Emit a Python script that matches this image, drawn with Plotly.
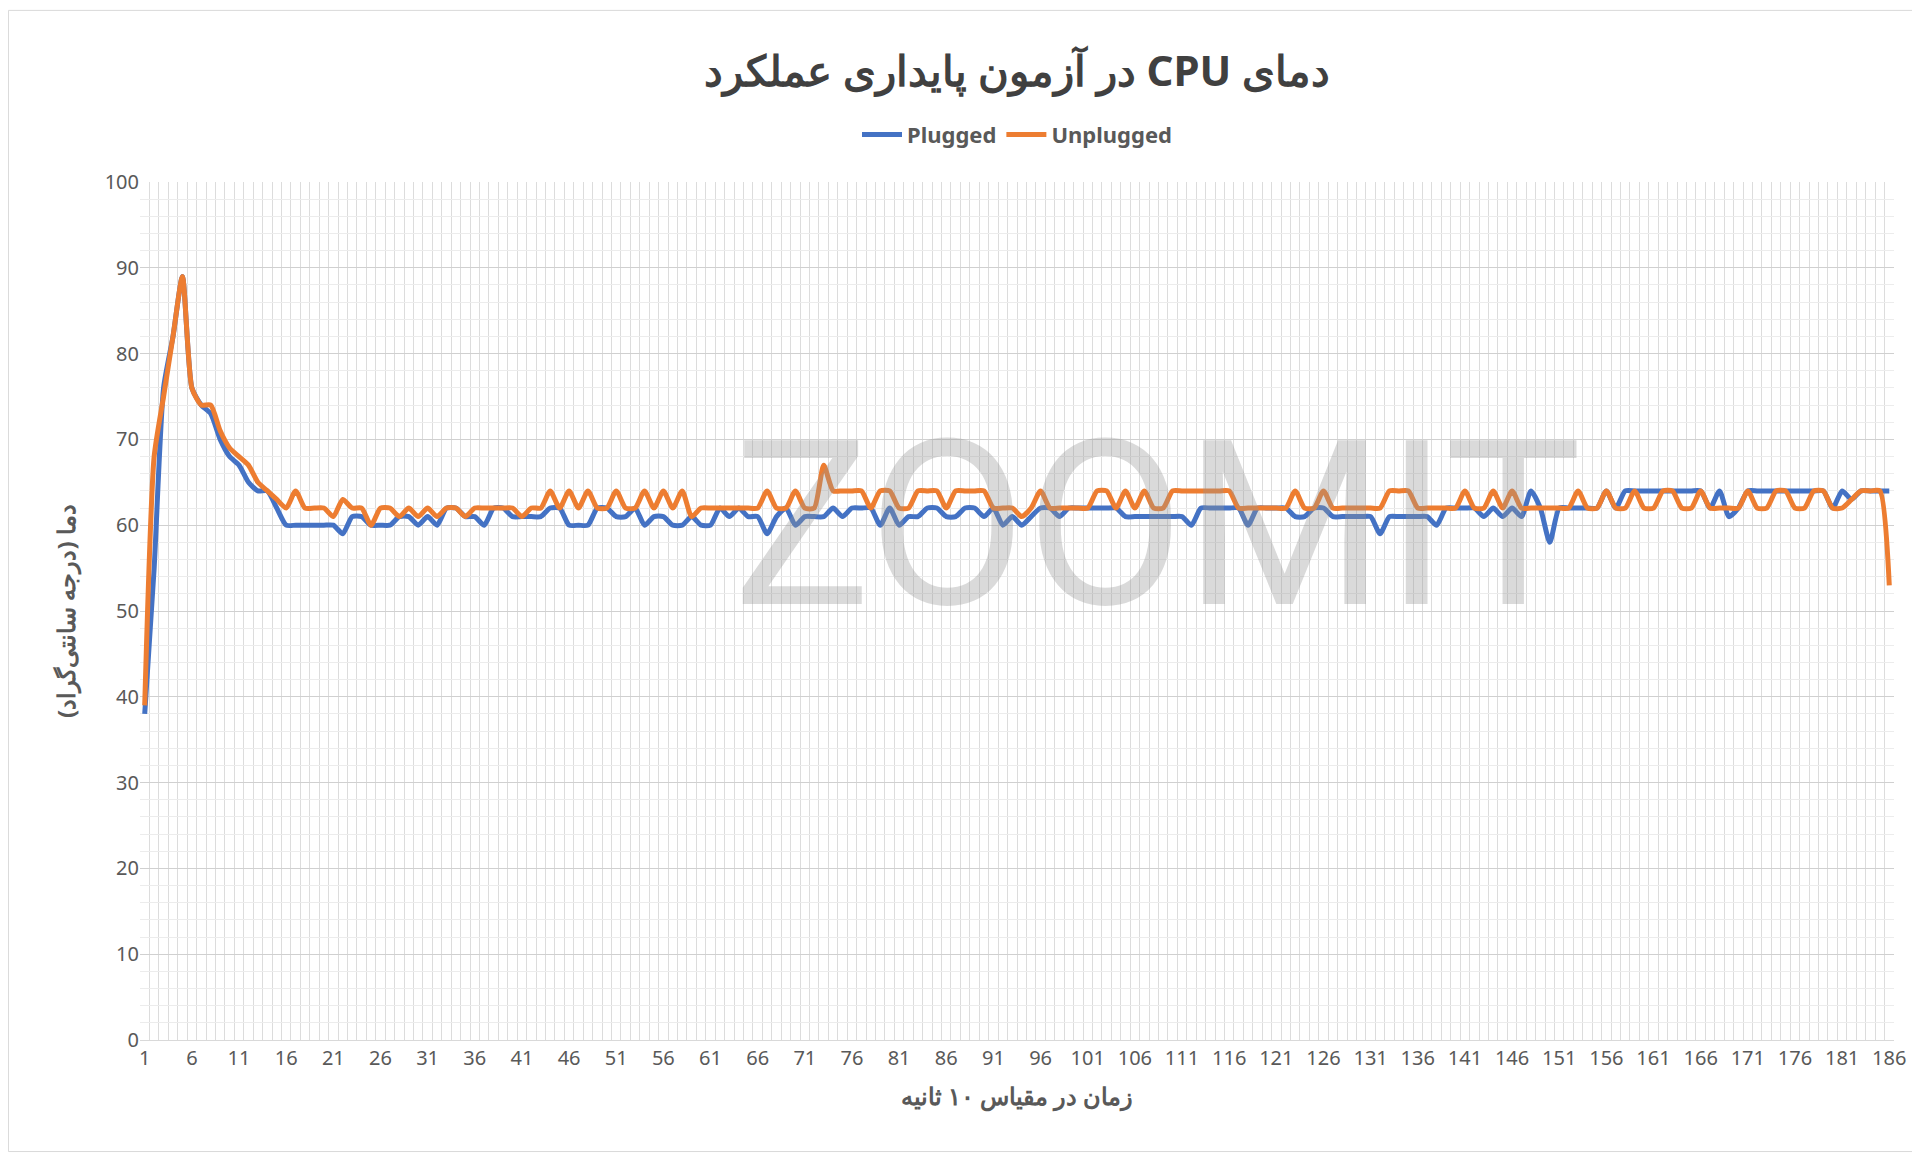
import plotly.graph_objects as go

# time index (10 s steps)
steps = list(range(1, 187))

plugged = [
    38, 55, 76, 82, 89, 76, 74, 73, 70, 68,
    67, 65, 64, 64, 62, 60, 60, 60, 60, 60,
    60, 59, 61, 61, 60, 60, 60, 61, 61, 60,
    61, 60, 62, 62, 61, 61, 60, 62, 62, 61,
    61, 61, 61, 62, 62, 60, 60, 60, 62, 62,
    61, 61, 62, 60, 61, 61, 60, 60, 61, 60,
    60, 62, 61, 62, 61, 61, 59, 61, 62, 60,
    61, 61, 61, 62, 61, 62, 62, 62, 60, 62,
    60, 61, 61, 62, 62, 61, 61, 62, 62, 61,
    62, 60, 61, 60, 61, 62, 62, 61, 62, 62,
    62, 62, 62, 62, 61, 61, 61, 61, 61, 61,
    61, 60, 62, 62, 62, 62, 62, 60, 62, 62,
    62, 62, 61, 61, 62, 62, 61, 61, 61, 61,
    61, 59, 61, 61, 61, 61, 61, 60, 62, 62,
    62, 62, 61, 62, 61, 62, 61, 64, 62, 58,
    62, 62, 62, 62, 62, 64, 62, 64, 64, 64,
    64, 64, 64, 64, 64, 64, 62, 64, 61, 62,
    64, 64, 64, 64, 64, 64, 64, 64, 64, 62,
    64, 63, 64, 64, 64, 64,
]

unplugged = [
    39, 68, 75, 82, 89, 76, 74, 74, 71, 69,
    68, 67, 65, 64, 63, 62, 64, 62, 62, 62,
    61, 63, 62, 62, 60, 62, 62, 61, 62, 61,
    62, 61, 62, 62, 61, 62, 62, 62, 62, 62,
    61, 62, 62, 64, 62, 64, 62, 64, 62, 62,
    64, 62, 62, 64, 62, 64, 62, 64, 61, 62,
    62, 62, 62, 62, 62, 62, 64, 62, 62, 64,
    62, 62, 67, 64, 64, 64, 64, 62, 64, 64,
    62, 62, 64, 64, 64, 62, 64, 64, 64, 64,
    62, 62, 62, 61, 62, 64, 62, 62, 62, 62,
    62, 64, 64, 62, 64, 62, 64, 62, 62, 64,
    64, 64, 64, 64, 64, 64, 62, 62, 62, 62,
    62, 62, 64, 62, 62, 64, 62, 62, 62, 62,
    62, 62, 64, 64, 64, 62, 62, 62, 62, 62,
    64, 62, 62, 64, 62, 64, 62, 62, 62, 62,
    62, 62, 64, 62, 62, 64, 62, 62, 64, 62,
    62, 64, 64, 62, 62, 64, 62, 62, 62, 62,
    64, 62, 62, 64, 64, 62, 62, 64, 64, 62,
    62, 63, 64, 64, 64, 53,
]

x_ticks = list(range(1, 187, 5))

fig = go.Figure()
fig.add_trace(go.Scatter(x=steps, y=plugged, name="<b>Plugged</b>", mode="lines",
                         line=dict(color="#4472C4", width=5, shape="spline", smoothing=0.6)))
fig.add_trace(go.Scatter(x=steps, y=unplugged, name="<b>Unplugged</b>", mode="lines",
                         line=dict(color="#ED7D31", width=5, shape="spline", smoothing=0.6)))

# watermark
fig.add_annotation(text="ZOOMIT", xref="paper", yref="paper", x=0.58, y=0.60,
                   showarrow=False, font=dict(size=230, color="rgba(150,150,150,0.35)", family="Roboto"))

fig.update_layout(
    width=1920, height=1153,
    paper_bgcolor="white", plot_bgcolor="white",
    font=dict(family="Noto Sans", color="#595959"),
    title=dict(text="<b>\u202bدمای CPU در آزمون پایداری عملکرد\u202c</b>", x=0.5, xref="paper",
               y=0.945, yref="container", xanchor="center", yanchor="middle",
               font=dict(size=42, color="#404040")),
    legend=dict(orientation="h", x=0.5, xanchor="center", y=1.055, yanchor="middle",
                font=dict(size=22, color="#595959"), traceorder="normal", itemwidth=40),
    margin=dict(l=132, r=34, t=174, b=121),
    showlegend=True,
)
fig.update_xaxes(range=[0.5, 186.5], tickvals=x_ticks, ticktext=[str(v) for v in x_ticks],
                 tickfont=dict(size=20), showgrid=False, zeroline=False,
                 showline=True, linecolor="#d9d9d9",
                 minor=dict(dtick=1, tick0=0.5, showgrid=True, gridcolor="#dcdcdc", gridwidth=1),
                 title=dict(text="<b>زمان در مقیاس ۱۰ ثانیه</b>", font=dict(size=24, color="#595959"), standoff=18))
fig.update_yaxes(range=[0, 100], dtick=10, tickfont=dict(size=20), zeroline=False,
                 gridcolor="#d0d0d0", gridwidth=1,
                 minor=dict(dtick=2, showgrid=True, gridcolor="#ececec"),
                 title=dict(text="<b>دما (درجه سانتی‌گراد)</b>", font=dict(size=24, color="#595959"), standoff=22))
fig.add_shape(type="rect", xref="paper", yref="paper", x0=-0.075, x1=1.018, y0=-0.13, y1=1.2,
              line=dict(color="#d9d9d9", width=1), layer="below")

fig.write_html("out.html")
